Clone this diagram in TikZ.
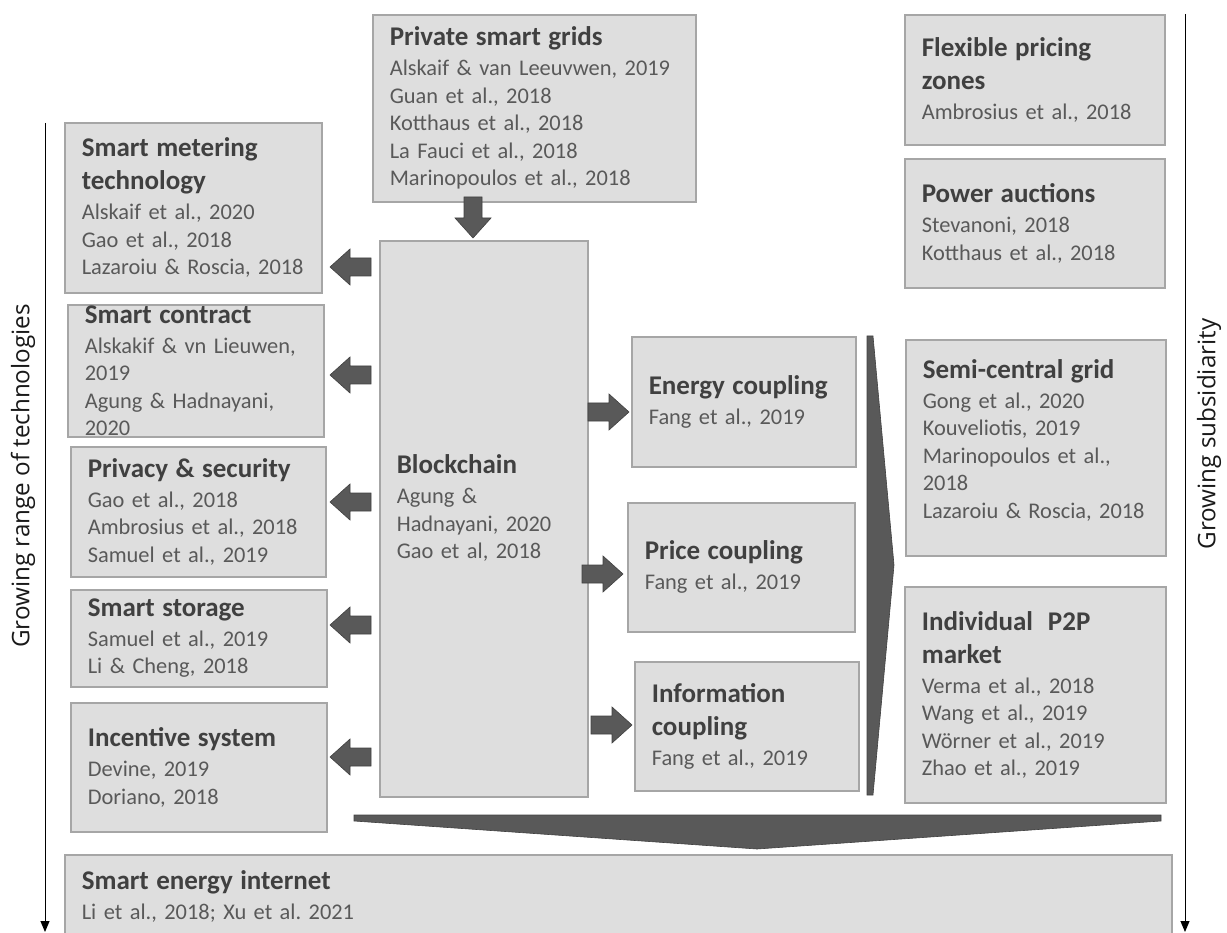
\documentclass[tikz,border=0pt]{standalone}
\usepackage{fontspec}
\setmainfont{Carlito}
\newfontfamily\labelfont{Open Sans}
\usepackage{tikz}
\usepackage{xcolor}
\usetikzlibrary{calc,arrows.meta}

\definecolor{boxfill}{RGB}{222,222,222}
\definecolor{boxline}{RGB}{166,166,166}
\definecolor{arrowgray}{RGB}{89,89,89}
\definecolor{arrowedge}{RGB}{64,64,64}
\definecolor{headgray}{RGB}{64,64,64}
\definecolor{refgray}{RGB}{89,89,89}

\newcommand{\hd}[1]{{\fontsize{27}{33}\selectfont\bfseries\color{headgray}#1}}

\tikzset{
  box/.style={draw=boxline, fill=boxfill, line width=1.6pt, anchor=north west,
    inner xsep=17pt, inner ysep=0pt, align=left, text=refgray,
    font=\fontsize{22.4}{27.5}\selectfont\frenchspacing},
  fatarrow/.pic={\filldraw[fill=arrowgray, draw=arrowedge, line width=0.6pt]
    (0,0) -- (20,-18) -- (20,-9) -- (41,-9) -- (41,9) -- (20,9) -- (20,18) -- cycle;},
  wedge/.style={fill=arrowgray, draw=arrowedge, line width=0.6pt},
  axis/.style={line width=1pt, -{Triangle[width=9pt,length=11pt]}},
  axislabel/.style={rotate=90, font=\labelfont\fontsize{24.2}{28}\selectfont, text=black!90}
}

\begin{document}
\begin{tikzpicture}[x=1pt,y=-1pt]
        \useasboundingbox (0,0) rectangle (1227,933);
        \clip (0,0) rectangle (1227,933);
        % top row
        \node[box, minimum width=323pt, minimum height=187pt, text width=289pt] (psg) at (372,14)
            {\hd{Private smart grids}\\[2.5pt] Alskaif \& van Leeuvwen, 2019\\ Guan et al., 2018\\
             Kotthaus et al., 2018\\ La Fauci et al., 2018\\ Marinopoulos et al., 2018};
        \node[box, minimum width=260pt, minimum height=130pt, text width=226pt] (fpz) at (904,14)
            {\hd{Flexible pricing}\\[5.5pt] \hd{zones}\\[2.5pt] Ambrosius et al., 2018};
        \node[box, minimum width=260pt, minimum height=129pt, text width=226pt] (pa) at (904,158)
            {\hd{Power auctions}\\[2.5pt] Stevanoni, 2018\\ Kotthaus et al., 2018};
        % technologies
        \node[box, minimum width=257pt, minimum height=170pt, text width=223pt] (smt) at (64,122)
            {\hd{Smart metering}\\[5.5pt] \hd{technology}\\[2.5pt] Alskaif et al., 2020\\
             Gao et al., 2018\\ Lazaroiu \& Roscia, 2018};
        \node[box, minimum width=256pt, minimum height=132pt, text width=222pt] (sc) at (67,304)
            {\hd{Smart contract}\\[2.5pt] Alskakif \& vn Lieuwen,\\ 2019\\ Agung \& Hadnayani,\\ 2020};
        \node[box, minimum width=255pt, minimum height=130pt, text width=221pt] (ps) at (70,446)
            {\hd{Privacy \& security}\\[2.5pt] Gao et al., 2018\\ Ambrosius et al., 2018\\ Samuel et al., 2019};
        \node[box, minimum width=256pt, minimum height=97pt, text width=222pt] (ss) at (70,589)
            {\hd{Smart storage}\\[2.5pt] Samuel et al., 2019\\ Li \& Cheng, 2018};
        \node[box, minimum width=256pt, minimum height=129pt, text width=222pt] (is) at (70,702)
            {\hd{Incentive system}\\[2.5pt] Devine, 2019\\ Doriano, 2018};
        % centre
        \node[box, minimum width=208pt, minimum height=556pt, text width=174pt] (chain) at (379,240)
            {\hd{Blockchain}\\[2.5pt] Agung \&\\ Hadnayani, 2020\\ Gao et al, 2018\\[-3.5pt]\mbox{}};
        \node[box, minimum width=224pt, minimum height=130pt, text width=190pt] (ec) at (631,336)
            {\hd{Energy coupling}\\[2.5pt] Fang et al., 2019};
        \node[box, minimum width=227pt, minimum height=129pt, text width=193pt] (pc) at (627,502)
            {\hd{Price coupling}\\[2.5pt] Fang et al., 2019};
        \node[box, minimum width=224pt, minimum height=129pt, text width=190pt] (ic) at (634,661)
            {\hd{Information}\\[5.5pt] \hd{coupling}\\[2.5pt] Fang et al., 2019};
        % markets
        \node[box, minimum width=260pt, minimum height=216pt, text width=226pt] (scg) at (905,339)
            {\hd{Semi-central grid}\\[2.5pt] Gong et al., 2020\\ Kouveliotis, 2019\\
             Marinopoulos et al.,\\ 2018\\ Lazaroiu \& Roscia, 2018\\[-9.5pt]\mbox{}};
        \node[box, minimum width=261pt, minimum height=216pt, text width=227pt] (p2p) at (904,586)
            {\hd{Individual\ \ P2P}\\[5.5pt] \hd{market}\\[2.5pt] Verma et al., 2018\\
             Wang et al., 2019\\ W\"orner et al., 2019\\ Zhao et al., 2019};
        \node[box, minimum width=1107pt, minimum height=84pt, text width=1073pt] (sei) at (64,854)
            {\hd{Smart energy internet}\\[2.5pt] Li et al., 2018; Xu et al. 2021};
        % block arrows
        \pic[rotate=90] at ($(chain.north -| 473,0)+(0,-2)$) {fatarrow};
        \pic at ($(chain.west |- 0,267)+(-49,0)$) {fatarrow};
        \pic at ($(chain.west |- 0,375)+(-49,0)$) {fatarrow};
        \pic at ($(chain.west |- 0,502)+(-49,0)$) {fatarrow};
        \pic at ($(chain.west |- 0,625)+(-49,0)$) {fatarrow};
        \pic at ($(chain.west |- 0,757)+(-49,0)$) {fatarrow};
        \pic[rotate=180] at ($(ec.west |- 0,412)+(-2,0)$) {fatarrow};
        \pic[rotate=180] at ($(pc.west |- 0,574)+(-4,0)$) {fatarrow};
        \pic[rotate=180] at ($(ic.west |- 0,725)+(-2,0)$) {fatarrow};
        % wedges
        \filldraw[wedge] (867,336) -- (873,336) -- (894,565) -- (873,795) -- (867,795) -- cycle;
        \filldraw[wedge] (354,815) -- (1161,815) -- (1161,821) -- (757,849) -- (354,821) -- cycle;
        % axes
        \draw[axis] (45,123) -- (45,932);
        \draw[axis] (1185,14) -- (1185,932);
        \node[axislabel] (techlabel) at (23,476) {Growing range of technologies};
        \node[axislabel] (sublabel) at (1209,434) {Growing subsidiarity};
    \end{tikzpicture}
\end{document}
